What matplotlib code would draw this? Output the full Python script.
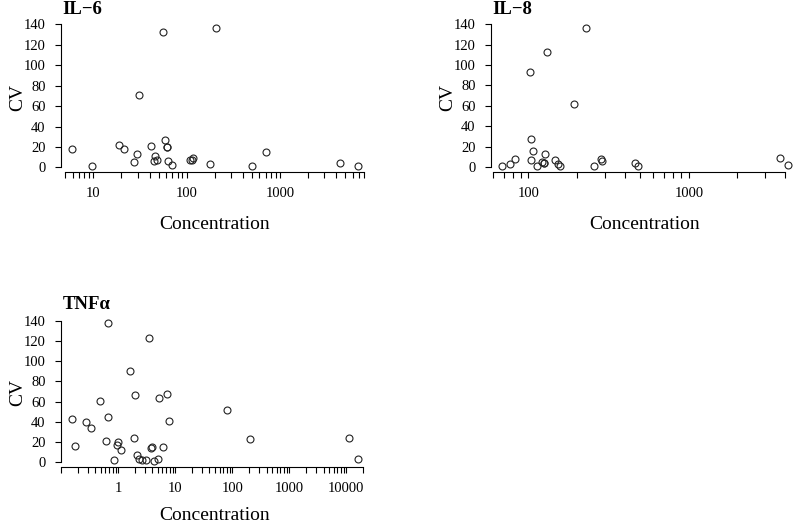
import matplotlib
matplotlib.use("Agg")
import matplotlib.pyplot as plt
import numpy as np
from matplotlib.ticker import FixedLocator, NullFormatter, FuncFormatter

plt.rcParams["font.family"] = ["Liberation Serif", "DejaVu Serif"]

# IL-6
il6_conc = [5.96, 9.7, 19, 21.5, 27, 29, 31, 41, 44.7, 45.4, 48, 56, 58.6, 61, 61.5,
            62.5, 70, 109, 114, 118, 178, 208, 501, 708, 4400, 6790]
il6_cv = [18.2, 1.7, 22, 18.2, 5.6, 13.2, 71, 21, 6.3, 11.6, 7.3, 133, 27, 20, 20,
          6, 2.3, 7, 7.6, 9.6, 3, 137, 1, 15.2, 4.6, 1]
il6_xticks = [10, 100, 1000]

# IL-8
il8_conc = [68.9, 76.5, 83, 103, 104, 104, 107, 113, 122, 125, 126, 127, 130, 147, 154,
            157, 192, 230, 257, 282, 286, 461, 484, 3700, 4130]
il8_cv = [1.3, 3, 7.6, 93.4, 27.4, 6.6, 16.2, 1.3, 4.6, 4.3, 3.6, 13.2, 113, 6.6, 3,
          0.7, 62, 136.6, 0.7, 8, 6.3, 3.6, 1.3, 8.6, 2.6]
il8_xticks = [100, 1000]

# TNF alpha
tnf_conc = [0.158, 0.173, 0.273, 0.333, 0.485, 0.618, 0.652, 0.66, 0.851, 0.948, 1.01,
            1.13, 1.6, 1.9, 1.98, 2.17, 2.32, 2.62, 3.08, 3.52, 3.71, 3.97, 4.19, 5.05,
            5.12, 6.1, 7.25, 7.65, 81.8, 206, 11000, 15800]
tnf_cv = [42.7, 15.7, 39.3, 33.3, 61, 21, 45, 138.7, 2, 16.3, 19.7, 11.7, 90.3, 23.7,
          66.3, 7, 2.7, 2, 2, 123.7, 14, 14.3, 0.3, 3, 63.3, 14.7, 68, 40.3, 51.7, 23,
          23.7, 3]
tnf_xticks = [1, 10, 100, 1000, 10000]

cv_ticks = [0, 20, 40, 60, 80, 100, 120, 140]

W, H = 800, 524


def panel_axes(fig, left, top, width=308, height=150):
    return fig.add_axes([left / W, (H - top - height) / H, width / W, height / H])


def draw_panel(ax, conc, cv, xticks, title, xlabel_drop=57):
    conc = np.asarray(conc, dtype=float)
    cv = np.asarray(cv, dtype=float)
    ax.plot(conc, cv, "o", mfc="none", mec="#222222", ms=5.0, mew=0.8, ls="none")
    ax.set_xscale("log")

    # R-style 4% padding
    lo, hi = np.log10(conc.min()), np.log10(conc.max())
    pad = 0.04 * (hi - lo)
    xmin, xmax = 10 ** (lo - pad), 10 ** (hi + pad)
    ax.set_xlim(xmin, xmax)
    ypad = 0.04 * (cv.max() - cv.min())
    ax.set_ylim(cv.min() - ypad, cv.max() + ypad)

    all_ticks = [m * 10.0 ** e for e in range(-2, 6) for m in range(1, 10)]
    all_ticks = [t for t in all_ticks if xmin <= t <= xmax]
    minor = [t for t in all_ticks if not any(np.isclose(t, x) for x in xticks)]
    ax.xaxis.set_major_locator(FixedLocator(xticks))
    ax.xaxis.set_minor_locator(FixedLocator(minor))
    ax.xaxis.set_major_formatter(FuncFormatter(lambda v, p: f"{v:g}"))
    ax.xaxis.set_minor_formatter(NullFormatter())
    ax.yaxis.set_major_locator(FixedLocator(cv_ticks))

    for side in ("top", "right"):
        ax.spines[side].set_visible(False)
    ax.spines["left"].set_bounds(cv_ticks[0], cv_ticks[-1])
    ax.spines["bottom"].set_bounds(min(all_ticks), max(all_ticks))
    for side in ("left", "bottom"):
        ax.spines[side].set_linewidth(0.8)

    ax.tick_params(which="both", direction="out", length=4.5, width=0.8,
                   pad=6.5, labelsize=10.5)
    ax.patch.set_visible(False)

    ax.set_xlabel("Concentration", fontsize=14)
    ax.set_ylabel("CV", fontsize=14)
    ax.xaxis.set_label_coords(0.5, -xlabel_drop / 150)
    ax.xaxis.label.set_va("baseline")
    ax.yaxis.set_label_coords(-38.5 / 308, 0.5)
    ax.yaxis.label.set_va("baseline")

    ax.annotate(title, xy=(0, 1), xycoords="axes fraction", xytext=(1, 6),
                textcoords="offset points", ha="left", va="baseline",
                fontsize=13.5, fontweight="bold")


fig = plt.figure(figsize=(W / 100, H / 100), dpi=100)
ax1 = panel_axes(fig, 61, 22)
ax2 = panel_axes(fig, 491, 22)
ax3 = panel_axes(fig, 61, 317)

draw_panel(ax1, il6_conc, il6_cv, il6_xticks, "IL\u22126")
draw_panel(ax2, il8_conc, il8_cv, il8_xticks, "IL\u22128")
draw_panel(ax3, tnf_conc, tnf_cv, tnf_xticks, "TNF\u03b1", xlabel_drop=53)

fig.savefig("out.png", dpi=100)
